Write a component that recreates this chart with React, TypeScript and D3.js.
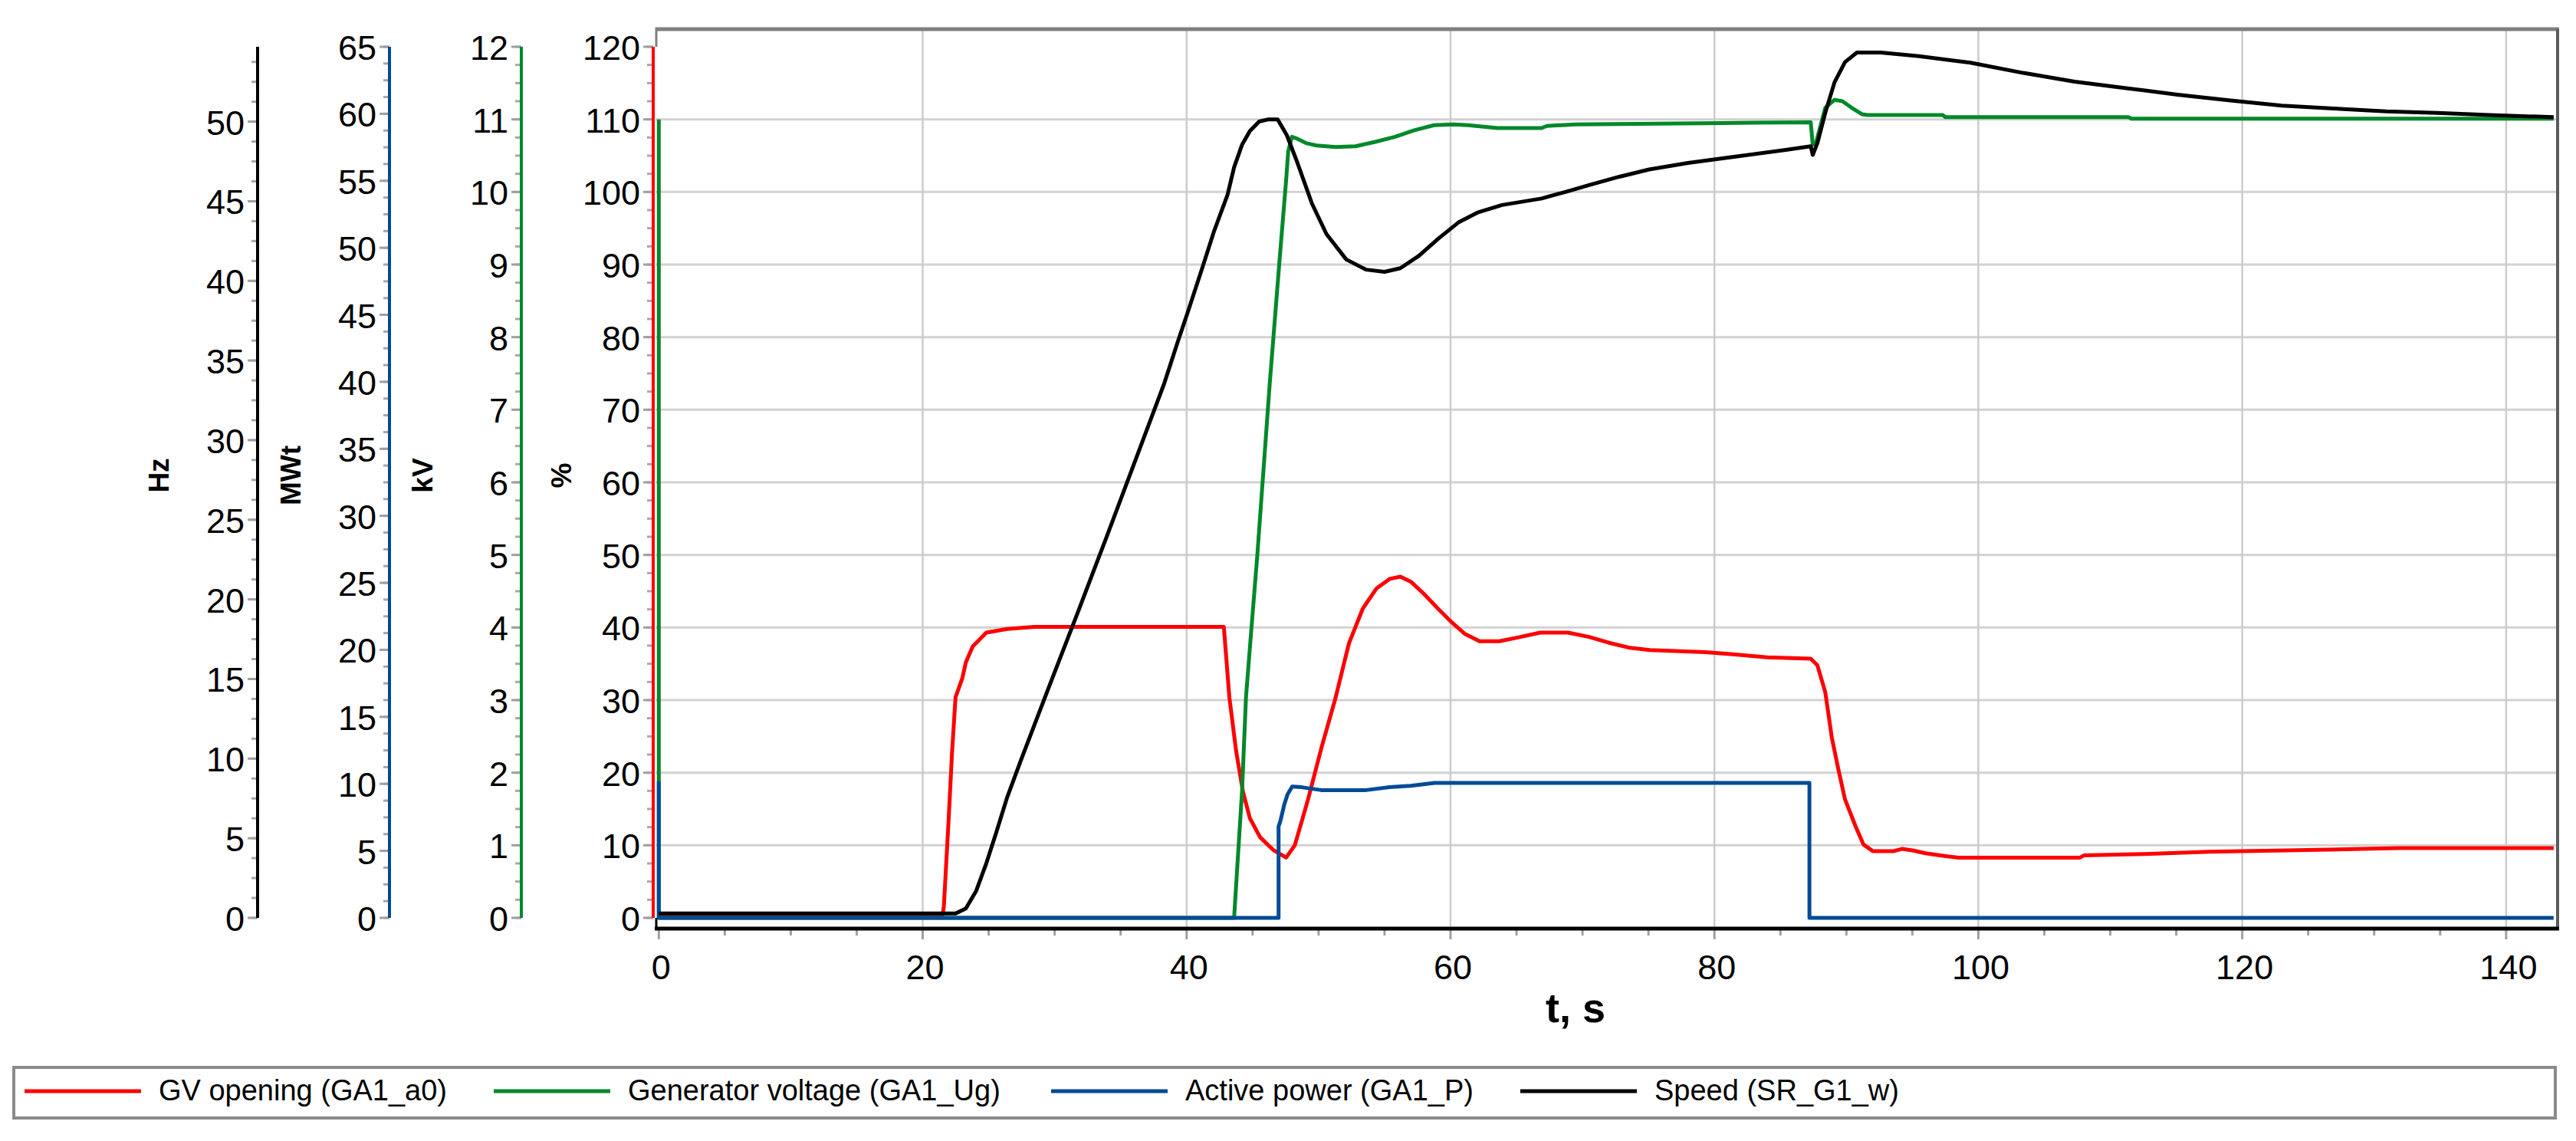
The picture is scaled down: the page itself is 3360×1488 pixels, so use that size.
import React from "react";
import * as d3 from "d3";

// ---------- data ----------
const gvOpening: [number, number][] = [
  [0, 0.4], [21.5, 0.4], [21.6, 1.5], [21.97, 13.7], [22.23, 23], [22.49, 30.4], [23.0, 33], [23.27, 35.2],
  [23.79, 37.4], [24.82, 39.3], [26.4, 39.8], [28.45, 40.1], [42.82, 40.1], [43.24, 30.4], [43.75, 23],
  [44.27, 17.4], [44.8, 13.7], [45.57, 11.1], [46.6, 9.3], [47.54, 8.3], [48.2, 10], [49.2, 16.3], [50.2, 23.3],
  [51.3, 30.4], [52.3, 37.8], [53.35, 42.6], [54.4, 45.4], [55.4, 46.7], [56.2, 47], [57.0, 46.3], [58.0, 44.6],
  [59.05, 42.6], [60.1, 40.7], [61.1, 39.1], [62.2, 38.1], [63.7, 38.1], [65.3, 38.7], [66.8, 39.3], [68.9, 39.3],
  [70.5, 38.7], [72.0, 37.9], [73.6, 37.2], [75.1, 36.9], [79.3, 36.6], [81.4, 36.3], [84.0, 35.9], [87.3, 35.7],
  [87.8, 34.8], [88.4, 31.1], [88.9, 24.8], [89.4, 20.4], [89.9, 16.3], [90.7, 12.6], [91.3, 10.1], [92.0, 9.2],
  [93.6, 9.2], [94.2, 9.5], [95.0, 9.3], [96.0, 8.9], [97.1, 8.6], [98.5, 8.3], [107.7, 8.3], [108.0, 8.6],
  [112.6, 8.8], [117.5, 9.1], [123.4, 9.3], [131.8, 9.6], [143.6, 9.6],
];

const genVoltage: [number, number][] = [
  [0, 110], [0, 0], [43.6, 0], [43.86, 7.6], [44.2, 17.4], [44.5, 30.4], [44.9, 39.6], [45.36, 50], [46.3, 73.6],
  [47.07, 91.2], [47.55, 101.8], [47.7, 105.6], [47.98, 107.6], [48.3, 107.4], [49.1, 106.7], [49.85, 106.4],
  [51.3, 106.2], [52.8, 106.3], [54.3, 106.9], [55.8, 107.6], [57.25, 108.5], [58.75, 109.2], [60.2, 109.3],
  [61.33, 109.2], [63.55, 108.8], [66.9, 108.8], [67.3, 109.1], [69.5, 109.3], [80.6, 109.5], [87.3, 109.6],
  [87.45, 106.5], [87.7, 106.8], [88.4, 111.6], [89.1, 112.7], [89.7, 112.5], [90.4, 111.6], [91.2, 110.7],
  [91.6, 110.6], [97.3, 110.6], [97.5, 110.3], [111.4, 110.3], [111.6, 110.1], [143.6, 110.1],
];

const activePower: [number, number][] = [
  [0, 18.8], [0, 0], [46.97, 0], [46.97, 12.6], [47.1, 13.3], [47.4, 15.6], [47.65, 17], [48.0, 18.1],
  [48.7, 18], [50.2, 17.6], [53.6, 17.6], [55.4, 18], [57.0, 18.2], [58.8, 18.6], [87.2, 18.6], [87.2, 0],
  [143.6, 0],
];

const speed: [number, number][] = [
  [0, 0.6], [22.5, 0.6], [23.27, 1.3], [24.05, 3.7], [24.8, 7.4], [25.6, 11.9], [26.4, 16.6], [27.4, 21.5],
  [28.45, 26.5], [29.5, 31.5], [30.5, 36.2], [31.8, 42.3], [33.1, 48.5], [33.9, 52.3], [38.3, 73.6], [39.3, 79.2],
  [40.1, 83.5], [41.2, 89.6], [42.1, 94.7], [43.1, 99.6], [43.6, 103.4], [44.2, 106.5], [44.8, 108.4],
  [45.5, 109.7], [46.2, 110.0], [46.9, 110.0], [47.6, 107.8], [48.4, 104.0], [49.5, 98.4], [50.6, 94.2],
  [52.1, 90.7], [53.6, 89.3], [55.0, 89.0], [56.2, 89.5], [57.6, 91.2], [59.1, 93.6], [60.6, 95.8], [62.1, 97.2],
  [63.9, 98.2], [66.9, 99.1], [68.7, 100.0], [70.6, 101.0], [72.8, 102.1], [75.05, 103.1], [78.0, 104.0],
  [81.7, 104.9], [85.4, 105.8], [87.3, 106.3], [87.45, 105.1], [87.8, 106.7], [88.4, 110.9], [89.1, 115.1],
  [89.9, 117.9], [90.8, 119.2], [92.6, 119.2], [95.5, 118.7], [99.4, 117.8], [103.4, 116.4], [107.3, 115.2],
  [111.2, 114.3], [115.1, 113.4], [119.1, 112.6], [123.0, 111.9], [126.9, 111.5], [130.9, 111.1], [134.8, 110.9],
  [138.7, 110.6], [143.6, 110.3],
];

const xTicks = [0, 20, 40, 60, 80, 100, 120, 140];
const pctTicks = [0, 10, 20, 30, 40, 50, 60, 70, 80, 90, 100, 110, 120];
const kvTicks = [0, 1, 2, 3, 4, 5, 6, 7, 8, 9, 10, 11, 12];
const mwTicks = [0, 5, 10, 15, 20, 25, 30, 35, 40, 45, 50, 55, 60, 65];
const hzTicks = [0, 5, 10, 15, 20, 25, 30, 35, 40, 45, 50];

const legendNames = ["GV opening (GA1_a0)", "Generator voltage (GA1_Ug)", "Active power (GA1_P)", "Speed (SR_G1_w)"];

// ---------- styles ----------
const RED = "#ff0000";
const GREEN = "#00882a";
const BLUE = "#004a96";
const BLACK = "#000000";
const FONT = "'Liberation Sans', Arial, sans-serif";

const W = 3360;
const H = 1488;
const plotL = 855, plotR = 3336, plotT = 38, axisY = 1211;
const yBottom = 1197, yTop = 61;

const x = d3.scaleLinear().domain([-0.25, 143.9]).range([plotL, plotR]);
const yPct = d3.scaleLinear().domain([0, 120]).range([yBottom, yTop]);
const yKv = d3.scaleLinear().domain([0, 12]).range([yBottom, yTop]);
const yMw = d3.scaleLinear().domain([0, 65]).range([yBottom, yTop]);
const yHz = d3.scaleLinear().domain([0, 54.7]).range([yBottom, yTop]);

const line = d3.line<[number, number]>().x((d) => x(d[0])).y((d) => yPct(d[1]));

type AxisDef = {
  scale: d3.ScaleLinear<number, number>;
  ticks: number[];
  minorStep: number;
  max: number;
  xPos: number;
  color: string;
  title: string;
  titleX: number;
};

const axes: AxisDef[] = [
  { scale: yHz, ticks: hzTicks, minorStep: 1.25, max: 54.7, xPos: 336, color: BLACK, title: "Hz", titleX: 207 },
  { scale: yMw, ticks: mwTicks, minorStep: 1.25, max: 65, xPos: 508, color: BLUE, title: "MWt", titleX: 379 },
  { scale: yKv, ticks: kvTicks, minorStep: 0.25, max: 12, xPos: 680, color: GREEN, title: "kV", titleX: 551 },
  { scale: yPct, ticks: pctTicks, minorStep: 2.5, max: 120, xPos: 852, color: RED, title: "%", titleX: 732 },
];

function LeftAxis({ a }: { a: AxisDef }) {
  const minors = d3.range(0, a.max + 1e-6, a.minorStep);
  return (
    <g>
      {minors.map((v, i) => (
        <line key={"m" + i} x1={a.xPos - 8} x2={a.xPos} y1={a.scale(v)} y2={a.scale(v)} stroke="#a8a8a8" strokeWidth={3} />
      ))}
      {a.ticks.map((v) => (
        <line key={"M" + v} x1={a.xPos - 13} x2={a.xPos} y1={a.scale(v)} y2={a.scale(v)} stroke="#a0a0a0" strokeWidth={3} />
      ))}
      <line x1={a.xPos} x2={a.xPos} y1={yTop} y2={yBottom} stroke={a.color} strokeWidth={4} />
      {a.ticks.map((v) => (
        <text key={"t" + v} x={a.xPos - 17} y={a.scale(v) + 17} textAnchor="end" fontSize={45} fontFamily={FONT} fill="#000">
          {v}
        </text>
      ))}
      <text
        transform={`translate(${a.titleX},620) rotate(-90)`}
        textAnchor="middle"
        dominantBaseline="central"
        fontSize={37}
        fontWeight="bold"
        fontFamily={FONT}
        fill="#000"
      >
        {a.title}
      </text>
    </g>
  );
}

export default function App() {
  const series = [
    { data: gvOpening, color: RED },
    { data: genVoltage, color: GREEN },
    { data: activePower, color: BLUE },
    { data: speed, color: BLACK },
  ];
  const legendColors = [RED, GREEN, BLUE, BLACK];
  const legendX = [32, 644, 1371, 1983];
  const xMinor = d3.range(0, 143.9, 5);
  const gridY = pctTicks.filter((v) => v > 0 && v < 120);
  const gridX = xTicks.filter((v) => v > 0);

  return (
    <svg width={W} height={H} style={{ position: "absolute", left: 0, top: 0, display: "block", background: "#fff" }}>
      <rect x={0} y={0} width={W} height={H} fill="#fff" />
      {/* grid */}
      {gridY.map((v) => (
        <line key={"gy" + v} x1={plotL} x2={plotR} y1={yPct(v)} y2={yPct(v)} stroke="#d2d2d2" strokeWidth={3} />
      ))}
      {gridX.map((v) => (
        <line key={"gx" + v} x1={x(v)} x2={x(v)} y1={plotT} y2={axisY} stroke="#cccccc" strokeWidth={2.5} />
      ))}
      {/* frame */}
      <line x1={plotL} x2={plotR + 2} y1={plotT} y2={plotT} stroke="#7f7f7f" strokeWidth={5} />
      <line x1={plotR} x2={plotR} y1={plotT} y2={axisY + 2} stroke="#5a5a5a" strokeWidth={4} />
      <line x1={plotL + 1} x2={plotL + 1} y1={plotT - 2} y2={yTop} stroke="#7f7f7f" strokeWidth={3} />
      <line x1={plotL + 1} x2={plotL + 1} y1={yBottom} y2={axisY} stroke="#000" strokeWidth={3} />
      {/* x axis ticks */}
      {xMinor.map((v) => (
        <line key={"xm" + v} x1={x(v)} x2={x(v)} y1={axisY} y2={axisY + (v % 20 === 0 ? 14 : 9)} stroke="#a0a0a0" strokeWidth={3} />
      ))}
      <line x1={plotL - 1} x2={plotR + 2} y1={axisY} y2={axisY} stroke="#000" strokeWidth={5} />
      {xTicks.map((v) => (
        <text key={"xt" + v} x={x(v) + 3} y={1277} textAnchor="middle" fontSize={45} fontFamily={FONT} fill="#000">
          {v}
        </text>
      ))}
      <text x={2055} y={1333} textAnchor="middle" fontSize={54} fontWeight="bold" fontFamily={FONT} fill="#000">
        t, s
      </text>
      {/* left axes */}
      {axes.map((a) => (
        <LeftAxis key={a.title} a={a} />
      ))}
      {/* series */}
      {series.map((s, i) => (
        <path key={i} d={line(s.data) || ""} fill="none" stroke={s.color} strokeWidth={5} strokeLinejoin="round" />
      ))}
      {/* legend */}
      <rect x={18} y={1392} width={3315} height={66} fill="#fff" stroke="#8a8a8a" strokeWidth={4} />
      {legendNames.map((name, i) => (
        <g key={name}>
          <line x1={legendX[i]} x2={legendX[i] + 152} y1={1423} y2={1423} stroke={legendColors[i]} strokeWidth={5} />
          <text x={legendX[i] + 175} y={1435} fontSize={38} fontFamily={FONT} fill="#000">
            {name}
          </text>
        </g>
      ))}
    </svg>
  );
}
